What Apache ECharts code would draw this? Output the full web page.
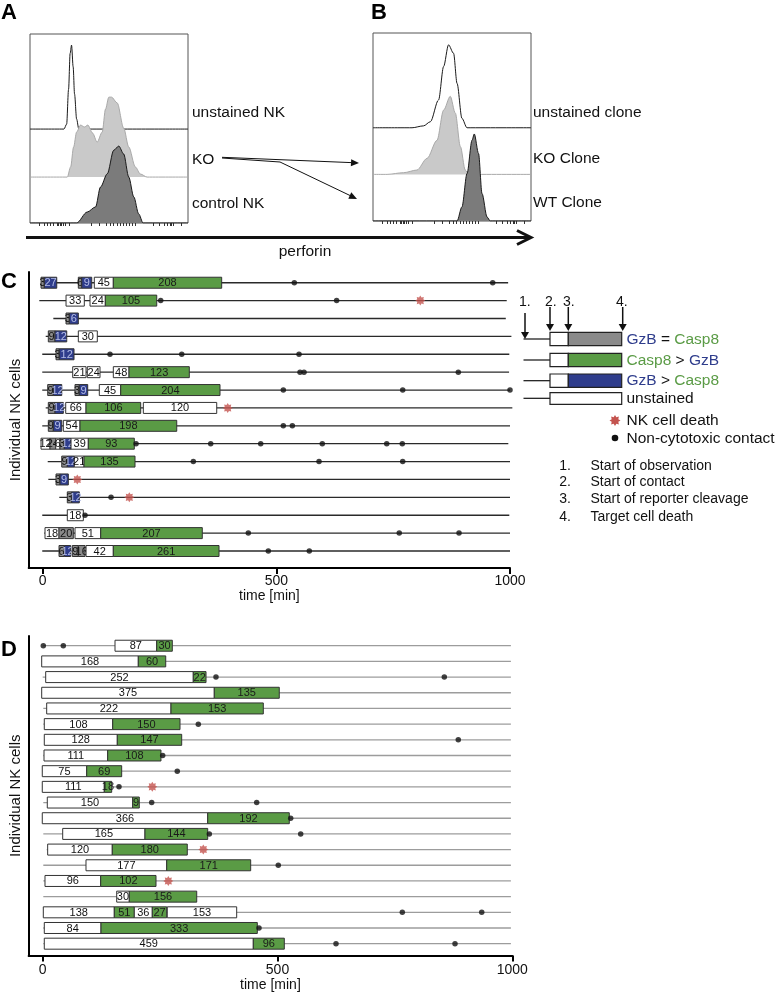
<!DOCTYPE html>
<html>
<head>
<meta charset="utf-8">
<script src="https://cdn.jsdelivr.net/npm/echarts@6/dist/echarts.min.js"></script>
<style>
  html, body { margin: 0; padding: 0; background: #fff; }
  #chart { width: 777px; height: 993px; }
</style>
</head>
<body>
<div id="chart"></div>
<script>
var FONT = '"Liberation Sans", Arial, sans-serif'

// ---- A / B: perforin histograms, [channel 0-100, height in % of panel]
var aUnstained = [[0,0],[21.5,0],[23.2,2.6],[24.4,21],[25.4,40],[26.3,44.4],[27.3,33],[28.2,18.5],[29.5,5.3],[30.9,0],[100,0]]
var aKO = [[0,0],[23.6,0],[25.7,5.3],[27.6,15.9],[29.5,23.8],[32,27.5],[34.5,26.5],[36.6,27.5],[39.6,23.3],[42.5,18.5],[45.7,23.8],[47.8,36],[49.9,42.3],[51.6,42.3],[55.2,39.2],[59.3,25.9],[62.5,15.9],[66.7,5.3],[69.9,1.6],[74.1,0],[100,0]]
var aControl = [[0,0],[29.5,0],[36.2,5.8],[41.5,8.5],[44.6,19],[48.9,26],[53,38.5],[56.2,40.7],[59.3,36.5],[62.5,24.3],[65.7,13.8],[68.8,4.8],[71.6,0],[100,0]]
var bUnstained = [[0,0],[24.7,0],[32,1],[36.3,3.2],[41.5,14.8],[44.7,32.6],[47.8,44.1],[51,39.6],[53.2,23.6],[56.3,5],[59.5,0],[100,0]]
var bKO = [[0,0],[8.9,0],[19.4,0.9],[27.8,2.3],[34.2,8.5],[40.5,18.1],[44.7,34.2],[48.9,41.5],[52.1,32.6],[55.3,14.8],[58.4,2.3],[60.5,0],[100,0]]
var bWT = [[0,0],[53.2,0],[56.3,7.5],[59.5,25.2],[62.7,43],[64.1,46.3],[66.8,35.9],[69,14.6],[72.2,2.1],[74.2,0],[100,0]]
var histTicks = [6,9,11,13,15,17,18,19,20,21,22,24.6,38.8,44,48,51,53,55,57,59,61,63,65,66.7,78,82,85,87,88.5,89.5,90.5,96]

// ---- C / D: single cell timelines
// kinds: 0 white (contact), 1 Casp8 > GzB, 2 GzB > Casp8, 3 GzB = Casp8
var timeTicks = [0, 500, 1000]
// [row, start, end] of the observation line (min)
var cLines = [[0,-3.6,996],[1,-7.3,993],[2,22.7,991],[3,6.4,1003],[4,-1,998.5],[5,-1,998],[6,-1,1000],[7,6.4,1005],[8,-1,1000],[9,-3.6,996.4],[10,10.7,1000],[11,12,1000],[12,35.5,1000],[13,-1,998.5],[14,3.4,1000],[15,-1,1000]]
// [row, start, end, kind, label]
var cSegments = [
  [0,-3.6,3.4,3,3],[0,3.4,30,2,27],[0,76.2,83.5,3,6],[0,83.5,104.9,2,9],[0,110.4,151.1,0,45],[0,151.1,383,1,208],
  [1,49.9,89,0,33],[1,101.2,134,0,24],[1,134,244,1,105],
  [2,49.9,57,3,3],[2,57,76.2,2,6],
  [3,12,26.3,3,9],[3,26.3,51.4,2,12],[3,76.2,116.8,0,30],
  [4,28.5,35.5,3,3],[4,35.5,67,2,12],
  [5,64.2,92.7,0,21],[5,95.4,122.6,0,24],[5,151.1,184.7,0,48],[5,184.7,313.7,1,123],
  [6,10.7,22.7,3,9],[6,22.7,40.7,2,12],[6,69.1,78.3,3,3],[6,78.3,96.3,2,9],[6,121.1,166.9,0,45],[6,166.9,379.4,1,204],
  [7,12,26.3,3,9],[7,26.3,44.1,2,12],[7,49.2,92.7,0,66],[7,92.7,209.7,1,106],[7,215.3,372.4,0,120],
  [8,12,22.7,3,9],[8,22.7,40.7,2,9],[8,44.1,79.8,0,54],[8,79.8,286.8,1,198],
  [9,-3.6,15.6,0,12],[9,15.6,27.8,3,24],[9,27.8,37,0,6],[9,37,46.2,3,3],[9,46.2,60.6,2,12],[9,60.6,97.6,0,39],[9,97.6,196,1,93],
  [10,40.7,52.6,3,9],[10,52.6,67.6,2,12],[10,67.6,88.4,0,21],[10,88.4,197.5,1,135],
  [11,28.5,37,3,3],[11,37,54.8,2,9],
  [12,52.6,62,3,3],[12,62,78.3,2,12],
  [13,52.6,86.9,0,18],
  [14,4.9,34.9,0,18],[14,34.9,65.5,3,20],[14,69.1,124.1,0,51],[14,124.1,341.5,1,207],
  [15,34.9,46.2,3,6],[15,46.2,59.9,2,12],[15,63.3,76.2,3,9],[15,76.2,90.5,3,16],[15,92.7,151.1,0,42],[15,151.1,377.3,1,261]
]
// [time, row]
var cContacts = [[538.4,0],[963,0],[252.5,1],[629,1],[144,4],[297.5,4],[548.5,4],[550.6,5],[559.2,5],[889.4,5],[514.9,6],[770.4,6],[1000,6],[514.9,8],[534.2,8],[199.7,9],[359.5,9],[466.5,9],[598.3,9],[736.2,9],[769.5,9],[322.3,10],[591.3,10],[770.4,10],[146.2,12],[90.5,13],[440,14],[763,14],[890.9,14],[482.8,15],[570.5,15]]
var cDeaths = [[808,1],[395.9,7],[74,11],[185.3,12]]

var dLines = [[0,1.3,997],[1,-2.1,997],[2,0,997],[3,-2.1,997],[4,1.3,997],[5,1.3,997],[6,3.4,997],[7,1.3,997],[8,-0.9,997],[9,-0.9,997],[10,1.3,997],[11,-0.9,997],[12,1.3,997],[13,8.5,997],[14,1.3,997],[15,1.3,997],[16,1.3,997],[17,1.3,997],[18,1.3,997],[19,1.3,997]]
var dSegments = [
  [0,154,242.8,0,87],[0,242.8,276,1,30],
  [1,-2.1,203.6,0,168],[1,203.6,262,1,60],
  [2,6.4,320.7,0,252],[2,320.7,347.8,1,22],
  [3,-2.1,365.4,0,375],[3,365.4,503.8,1,135],
  [4,8.5,273.2,0,222],[4,273.2,469.8,1,153],
  [5,3.4,149.1,0,108],[5,149.1,292.4,1,150],
  [6,3.4,158.9,0,128],[6,158.9,296,1,147],
  [7,2.8,138.4,0,111],[7,138.4,251.9,1,108],
  [8,-0.9,93.7,0,75],[8,93.7,168.2,1,69],
  [9,-0.9,131.2,0,111],[9,131.2,146.9,1,18],
  [10,9.8,191.7,0,150],[10,191.7,205.7,1,9],
  [11,-0.9,351.4,0,366],[11,351.4,525.1,1,192],
  [12,42.6,217.8,0,165],[12,217.8,351.4,1,144],
  [13,10.6,148.2,0,120],[13,148.2,307.9,1,180],
  [14,92.2,264.1,0,177],[14,264.1,442.9,1,171],
  [15,4.9,123.5,0,96],[15,123.5,241.3,1,102],
  [16,157.6,184.4,0,30],[16,184.4,328,1,156],
  [17,1.3,152.5,0,138],[17,152.5,195.1,1,51],[17,195.1,233.4,0,36],[17,233.4,264.1,1,27],[17,265.3,413.1,0,153],
  [18,3.4,124.2,0,84],[18,124.2,457,1,333],
  [19,3.4,448.5,0,459],[19,448.5,514.5,1,96]
]
var dContacts = [[1.3,0],[43.9,0],[369,2],[855.2,2],[331.4,5],[885,6],[255.5,7],[286.6,8],[162.5,9],[232.1,10],[455.7,10],[528.1,11],[354.8,12],[549.4,12],[501.7,14],[765.8,17],[934.9,17],[460.6,18],[624.6,19],[878,19]]
var dDeaths = [[233.4,9],[342,13],[267.5,15]]

var GREEN = '#5a9b45'
var BLUE = '#2f3d8c'
var GREY = '#8a8a8a'
var RED = '#c4544f'
var segFill = ['#ffffff', GREEN, BLUE, GREY]
var segText = ['#111', '#1a1a1a', '#b4bde6', '#111']
var STAR_PTS = [[0,-10],[2.49,-6.01],[7.07,-7.07],[6.01,-2.49],[10,0],[6.01,2.49],[7.07,7.07],[2.49,6.01],[0,10],[-2.49,6.01],[-7.07,7.07],[-6.01,2.49],[-10,0],[-6.01,-2.49],[-7.07,-7.07],[-2.49,-6.01]]
var STAR = 'path://M' + STAR_PTS.map(function (p) { return p.join(',') }).join('L') + 'Z'

function histSeries(idx, data, base, fill, stroke, z) {
  var s = {
    type: 'line', xAxisIndex: idx, yAxisIndex: idx, z: z, silent: true,
    data: data.map(function (d) { return [d[0], d[1] + base] }),
    smooth: 0.3, smoothMonotone: 'x', showSymbol: false,
    lineStyle: { color: stroke, width: 1 }
  }
  if (fill) s.areaStyle = { color: fill, opacity: 1, origin: base }
  return s
}

function lineItem(color) {
  return function (params, api) {
    var a = api.coord([api.value(1), api.value(0)])
    var b = api.coord([api.value(2), api.value(0)])
    return { type: 'line', shape: { x1: a[0], y1: a[1], x2: b[0], y2: b[1] }, style: { stroke: color, lineWidth: 1.3 } }
  }
}

function segItem(params, api) {
  var row = api.value(0), k = api.value(3)
  var a = api.coord([api.value(1), row])
  var b = api.coord([api.value(2), row])
  var h = 11
  return {
    type: 'group',
    children: [
      { type: 'rect', shape: { x: a[0], y: a[1] - h / 2, width: b[0] - a[0], height: h },
        style: { fill: segFill[k], stroke: '#333', lineWidth: 1 } },
      { type: 'text', x: (a[0] + b[0]) / 2, y: a[1] + 0.5,
        style: { text: String(api.value(4)), fill: segText[k], font: '11px ' + FONT, align: 'center', verticalAlign: 'middle' } }
    ]
  }
}

function timelineSeries(idx, lines, lineColor, segs, contacts, deaths) {
  return [
    { type: 'custom', xAxisIndex: idx, yAxisIndex: idx, z: 2, silent: true, data: lines, encode: { x: [1, 2], y: 0 }, renderItem: lineItem(lineColor) },
    { type: 'custom', xAxisIndex: idx, yAxisIndex: idx, z: 3, silent: true, data: segs, encode: { x: [1, 2], y: 0 }, renderItem: segItem },
    { type: 'scatter', xAxisIndex: idx, yAxisIndex: idx, z: 4, silent: true, data: contacts, symbol: 'circle', symbolSize: 5.5, itemStyle: { color: '#111' } },
    { type: 'scatter', xAxisIndex: idx, yAxisIndex: idx, z: 4, silent: true, data: deaths, symbol: STAR, symbolSize: 10, itemStyle: { color: RED } }
  ]
}

function histX() {
  return {
    type: 'value', min: 0, max: 100, axisLine: { show: false }, splitLine: { show: false },
    axisLabel: { show: false },
    axisTick: { show: true, inside: false, length: 3, customValues: histTicks, lineStyle: { color: '#333', width: 1 } }
  }
}
function histY() {
  return { type: 'value', min: 0, max: 100, show: false }
}
function timeX(labelMargin, nameGap) {
  return {
    type: 'value', min: -30, max: 1000, position: 'bottom',
    axisLine: { show: true, onZero: false, lineStyle: { color: '#000', width: 2 } },
    axisTick: { show: true, customValues: timeTicks, length: 6, lineStyle: { color: '#000', width: 2 } },
    axisLabel: { customValues: timeTicks, fontSize: 14, color: '#111', fontFamily: FONT, margin: labelMargin,
      formatter: function (v) { return String(v) } },
    splitLine: { show: false },
    name: 'time [min]', nameLocation: 'middle', nameGap: nameGap,
    nameTextStyle: { fontSize: 14, color: '#111', fontFamily: FONT }
  }
}
function rowY(min, max) {
  return {
    type: 'value', min: min, max: max, inverse: true, position: 'left',
    axisLine: { show: true, onZero: false, lineStyle: { color: '#000', width: 2 } },
    axisTick: { show: false }, axisLabel: { show: false }, splitLine: { show: false },
    name: 'Individual NK cells', nameLocation: 'middle', nameRotate: 90, nameGap: 5,
    nameTextStyle: { fontSize: 15, color: '#111', fontFamily: FONT }
  }
}

function txt(x, y, s, size, extra) {
  var st = { text: s, font: size + 'px ' + FONT, fill: '#111', align: 'left', verticalAlign: 'middle' }
  for (var k in extra) st[k] = extra[k]
  return { type: 'text', x: x, y: y, silent: true, style: st }
}
function seg(x1, y1, x2, y2, w) {
  return { type: 'line', silent: true, shape: { x1: x1, y1: y1, x2: x2, y2: y2 }, style: { stroke: '#111', lineWidth: w || 1.2 } }
}
function tri(points) {
  return { type: 'polygon', silent: true, shape: { points: points }, style: { fill: '#111' } }
}
function box(x, y, w, h, fill) {
  return { type: 'rect', silent: true, shape: { x: x, y: y, width: w, height: h }, style: { fill: fill, stroke: '#222', lineWidth: 1.2 } }
}
function downArrow(x, y1, y2) {
  return [seg(x, y1, x, y2 - 6, 1.5), tri([[x - 4, y2 - 7], [x + 4, y2 - 7], [x, y2]])]
}

var rich = {
  b: { fill: BLUE, font: '15.5px ' + FONT },
  g: { fill: GREEN, font: '15.5px ' + FONT },
  k: { fill: '#111', font: '15.5px ' + FONT }
}

var graphics = [
  txt(1, 13, 'A', 22, { font: 'bold 22px ' + FONT, fill: '#000' }),
  txt(371, 13, 'B', 22, { font: 'bold 22px ' + FONT, fill: '#000' }),
  txt(1, 282, 'C', 22, { font: 'bold 22px ' + FONT, fill: '#000' }),
  txt(1, 650, 'D', 22, { font: 'bold 22px ' + FONT, fill: '#000' }),
  txt(192, 113, 'unstained NK', 15.5),
  txt(192, 160, 'KO', 15.5),
  txt(192, 204, 'control NK', 15.5),
  txt(533, 113, 'unstained clone', 15.5),
  txt(533, 159, 'KO Clone', 15.5),
  txt(533, 203, 'WT Clone', 15.5),
  txt(305, 252, 'perforin', 15.5, { align: 'center' }),
  // perforin axis arrow
  seg(26, 237.5, 530, 237.5, 3),
  { type: 'polyline', silent: true, shape: { points: [[517, 230.5], [531, 237.5], [517, 244.5]] }, style: { stroke: '#111', lineWidth: 3, fill: null } },
  // KO -> clones arrows
  seg(222, 157.3, 351, 162.6, 1),
  tri([[359, 163], [350.8, 166.2], [351.2, 159.2]]),
  { type: 'polyline', silent: true, shape: { points: [[222, 158], [280, 162], [350, 195.5]] }, style: { stroke: '#111', lineWidth: 1, fill: null } },
  tri([[357, 199], [348.3, 198.7], [351.3, 192.3]]),
  // legend of C
  txt(519, 302, '1.', 14), txt(545, 302, '2.', 14), txt(563, 302, '3.', 14), txt(616, 302, '4.', 14),
  seg(523.5, 339, 550, 339), seg(523.5, 360, 550, 360), seg(523.5, 380.7, 550, 380.7), seg(523.5, 398.3, 550, 398.3),
  box(550, 332.3, 18.3, 13.4, '#fff'), box(568.3, 332.3, 53.4, 13.4, GREY),
  box(550, 353.3, 18.3, 13.4, '#fff'), box(568.3, 353.3, 53.4, 13.4, GREEN),
  box(550, 374, 18.3, 13.4, '#fff'), box(568.3, 374, 53.4, 13.4, BLUE),
  box(550, 392.7, 71.7, 11.6, '#fff'),
  txt(626.5, 339.5, '{b|GzB}{k| = }{g|Casp8}', 15.5, { rich: rich }),
  txt(626.5, 360.5, '{g|Casp8}{k| > }{b|GzB}', 15.5, { rich: rich }),
  txt(626.5, 381, '{b|GzB}{k| > }{g|Casp8}', 15.5, { rich: rich }),
  txt(626.5, 398.5, 'unstained', 15.5),
  { type: 'polygon', silent: true, shape: { points: STAR_PTS.map(function (p) { return [615 + p[0] * 0.55, 420.5 + p[1] * 0.55] }) }, style: { fill: RED } },
  txt(626.5, 420.5, 'NK cell death', 15.5),
  { type: 'circle', silent: true, shape: { cx: 615, cy: 438, r: 3.3 }, style: { fill: '#111' } },
  txt(626.5, 438.5, 'Non-cytotoxic contact', 15.5),
  txt(571, 466, '1.', 14, { align: 'right' }), txt(590.5, 466, 'Start of observation', 14),
  txt(571, 482, '2.', 14, { align: 'right' }), txt(590.5, 482, 'Start of contact', 14),
  txt(571, 499.5, '3.', 14, { align: 'right' }), txt(590.5, 499.5, 'Start of reporter cleavage', 14),
  txt(571, 517, '4.', 14, { align: 'right' }), txt(590.5, 517, 'Target cell death', 14)
]
graphics = graphics.concat(downArrow(525, 313, 339), downArrow(550, 307, 331), downArrow(568.3, 307, 331), downArrow(622.7, 307, 331))

var chart = echarts.init(document.getElementById('chart'), null, { renderer: 'canvas' })

var series = [
  histSeries(0, aUnstained, 49.7, null, '#1a1a1a', 2),
  histSeries(0, aKO, 24.3, '#c9c9c9', '#a9a9a9', 3),
  histSeries(0, aControl, 0, '#7b7b7b', '#1a1a1a', 4),
  histSeries(1, bUnstained, 49.6, null, '#1a1a1a', 2),
  histSeries(1, bKO, 24.8, '#c9c9c9', '#a9a9a9', 3),
  histSeries(1, bWT, 0, '#7b7b7b', '#1a1a1a', 4)
]
series = series.concat(
  timelineSeries(2, cLines, '#2a2a2a', cSegments, cContacts, cDeaths),
  timelineSeries(3, dLines, '#9c9c9c', dSegments, dContacts, dDeaths)
)

chart.setOption({
  animation: false,
  backgroundColor: '#fff',
  textStyle: { fontFamily: FONT },
  grid: [
    { left: 30, top: 34, width: 158, height: 189, show: true, borderColor: '#555', borderWidth: 1 },
    { left: 373, top: 33, width: 158, height: 188, show: true, borderColor: '#555', borderWidth: 1 },
    { left: 28.7, top: 272, width: 481.3, height: 296 },
    { left: 28.6, top: 636, width: 483.7, height: 321 }
  ],
  xAxis: [
    Object.assign(histX(), { gridIndex: 0 }),
    Object.assign(histX(), { gridIndex: 1 }),
    Object.assign(timeX(6.5, 21.5), { gridIndex: 2 }),
    Object.assign(timeX(7.5, 21), { gridIndex: 3 })
  ],
  yAxis: [
    Object.assign(histY(), { gridIndex: 0 }),
    Object.assign(histY(), { gridIndex: 1 }),
    Object.assign(rowY(-0.6, 15.95), { gridIndex: 2 }),
    Object.assign(rowY(-0.62, 19.76), { gridIndex: 3 })
  ],
  series: series,
  graphic: graphics
})
</script>
</body>
</html>
